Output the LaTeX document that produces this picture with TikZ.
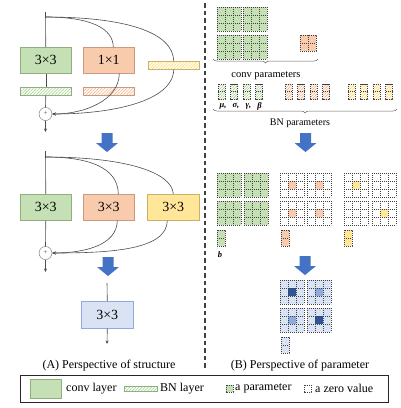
\documentclass[tikz,border=0pt]{standalone}
\usepackage{fontspec}
\setmainfont{Liberation Serif}
\usetikzlibrary{arrows.meta,patterns.meta,decorations.pathreplacing}
\definecolor{cgreen}{HTML}{C5E0B4}
\definecolor{cgreenD}{HTML}{8FAF7F}
\definecolor{corange}{HTML}{F8CBAD}
\definecolor{corangeD}{HTML}{C99A80}
\definecolor{cyellow}{HTML}{FFE699}
\definecolor{cyellowD}{HTML}{C8B26A}
\definecolor{cblueL}{HTML}{DAE3F3}
\definecolor{cblueM}{HTML}{8FAADC}
\definecolor{cblueD}{HTML}{2F5597}
\definecolor{cblueA}{HTML}{4472C4}
\definecolor{hgreen}{HTML}{A9D18E}
\definecolor{horange}{HTML}{F4B183}
\definecolor{hyellow}{HTML}{FFD966}
\tikzset{
  layer/.style={draw, anchor=north west, minimum width=51pt, minimum height=26pt, inner sep=0pt, font=\fontsize{14}{14}\selectfont, line width=0.6pt},
  bn/.style={anchor=north west, minimum width=51pt, minimum height=8pt, inner sep=0pt, line width=0.5pt, preaction={fill=white}, pattern={Lines[angle=45,distance=2.2pt,line width=0.6pt]}},
  plus/.style={circle, draw=black!60, fill=white, minimum size=13pt, inner sep=0pt, font=\scriptsize, text=black!70},
  con/.style={draw=black!70, line width=0.6pt},
  tip/.style={-{Stealth[length=3.5pt,width=3pt]}},
  dotl/.style={draw=black!75, line width=0.6pt, dash pattern=on 1.2pt off 0.8pt},
  barrow/.style={fill=cblueA},
  lbl/.style={anchor=west, inner sep=0pt, font=\large},
  captxt/.style={inner sep=0pt, font=\large},
  greek/.style={inner sep=0pt, font=\fontsize{8.5}{9}\selectfont\bfseries\itshape},
  brc/.style={draw=black!60, line width=0.5pt, decorate, decoration={brace, mirror, amplitude=4pt}},
  sepl/.style={draw=black!75, line width=1.4pt, dash pattern=on 4.5pt off 3pt}
}
\newcommand\kgrid[4]{%
  \fill[#3] (#1,#2) rectangle ++(24,24);
  \fill[#4] (#1+8,#2+8) rectangle ++(8,8);
  \foreach \k in {0,8,16,24}{\draw[dotl] (#1+\k,#2) -- ++(0,24); \draw[dotl] (#1,#2+\k) -- ++(24,0);}
}
\newcommand\kcol[3]{%
  \fill[#3] (#1,#2) rectangle ++(8,16);
  \draw[dotl] (#1,#2) rectangle ++(8,16);
  \draw[dotl] (#1,#2+8) -- ++(8,0);
}
\newcommand\bnpar[3]{%
  \fill[white] (#1,#2) rectangle ++(7,15);
  \fill[pattern={Lines[angle=45,distance=2pt,line width=0.6pt]}, pattern color=#3] (#1,#2) rectangle ++(7,15);
  \draw[dotl] (#1,#2) rectangle ++(7,15);
  \draw[dotl] (#1,#2+7.5) -- ++(7,0);
}
\newcommand\bluearrow[2]{%
  \fill[barrow] (#1-5.5,#2) -- (#1+5.5,#2) -- (#1+5.5,#2+10) -- (#1+11,#2+10) -- (#1,#2+19) -- (#1-11,#2+10) -- (#1-5.5,#2+10) -- cycle;
}
\begin{document}
\begin{tikzpicture}[x=1pt,y=-1pt]
\useasboundingbox (0,0) rectangle (400,408);
% ---------- stage 1
\coordinate (t1) at (45.5,12);
\coordinate (s1) at (45.5,17);
\node[layer, fill=cgreen, draw=cgreenD] (g1) at (20,47) {3×3};
\node[layer, fill=corange, draw=corangeD] (o1) at (83,47) {1×1};
\node[bn, draw=cgreenD, pattern color=hgreen] (bg1) at (20,87) {};
\node[bn, draw=corangeD, pattern color=horange] (bo1) at (83,87) {};
\node[bn, draw=cyellowD, pattern color=hyellow] (by1) at (148,61) {};
\node[plus] (p1) at (45.5,114) {+};
\coordinate (e1) at (45.5,132);
\draw[con] (t1) -- (g1.north);
\draw[con] (g1.south) -- (bg1.north);
\draw[con] (bg1.south) -- (p1.north);
\draw[con,tip] (p1.south) -- (e1);
\draw[con] (s1) .. controls (90,17) and (113,28) .. ([xshift=4.5pt]o1.north);
\draw[con] (s1) .. controls (125,17) and (173,32) .. (by1.north);
\draw[con,tip] ([xshift=10.5pt]o1.south) .. controls (119,100) and (85,114) .. (p1.east);
\draw[con,tip] (by1.south) .. controls (173,102) and (110,114) .. (p1.east);
\bluearrow{107}{133}
% ---------- stage 2
\coordinate (t2) at (45.5,151);
\coordinate (s2) at (45.5,157);
\node[layer, fill=cgreen, draw=cgreenD] (g2) at (20,194) {3×3};
\node[layer, fill=corange, draw=corangeD] (o2) at (83,194) {3×3};
\node[layer, fill=cyellow, draw=cyellowD, minimum width=52pt] (y2) at (147,194) {3×3};
\node[plus] (p2) at (45.5,253) {+};
\coordinate (e2) at (45.5,272);
\draw[con] (t2) -- (g2.north);
\draw[con] (g2.south) -- (p2.north);
\draw[con,tip] (p2.south) -- (e2);
\draw[con] (s2) .. controls (90,157) and (118,168) .. ([xshift=9.5pt]o2.north);
\draw[con] (s2) .. controls (125,157) and (172,172) .. (y2.north);
\draw[con,tip] ([xshift=8.5pt]o2.south) .. controls (117,245) and (85,253) .. (p2.east);
\draw[con,tip] ([xshift=-6pt]y2.south) .. controls (167,250) and (110,253) .. (p2.east);
\bluearrow{108}{257}
% ---------- stage 3
\coordinate (t3) at (107,283);
\node[layer, fill=cblueL, draw=cblueM, minimum width=52pt, minimum height=27pt] (b3) at (81,301) {3×3};
\coordinate (e3) at (107,344);
\draw[con] (t3) -- (b3.north);
\draw[con,tip] (b3.south) -- (e3);
\node[captxt] (capA) at (109,366) {(A) Perspective of structure};
% ---------- separator
\draw[sepl] (205,3) -- (205,370);
% ---------- right: conv parameters
\kgrid{217}{7}{cgreen}{cgreen}
\kgrid{243}{7}{cgreen}{cgreen}
\kgrid{217}{35}{cgreen}{cgreen}
\kgrid{243}{35}{cgreen}{cgreen}
\fill[corange] (300,35) rectangle ++(16,16);
\draw[dotl] (300,35) rectangle ++(16,16);
\draw[dotl] (308,35) -- ++(0,16);
\draw[dotl] (300,43) -- ++(16,0);
\coordinate (br1a) at (213,59);
\coordinate (br1b) at (318,59);
\draw[brc] (br1a) -- (br1b);
\node[inner sep=0pt, font=\fontsize{10.5}{12}\selectfont] (convp) at (266,76) {conv parameters};
% BN parameters
\foreach \xx in {218,230.5,243,255.5} {\bnpar{\xx}{84}{hgreen}}
\foreach \xx in {285,297.5,310,322.5} {\bnpar{\xx}{84}{horange}}
\foreach \xx in {348,360.5,373,385.5} {\bnpar{\xx}{84}{hyellow}}
\node[greek] (mu) at (223,106) {μ,};
\node[greek] (sig) at (236,106) {σ,};
\node[greek] (gam) at (248.5,106) {γ,};
\node[greek] (bet) at (259.5,106) {β};
\coordinate (br2a) at (213,109);
\coordinate (br2b) at (397,109);
\draw[brc] (br2a) -- (br2b);
\node[inner sep=0pt, font=\fontsize{10}{12}\selectfont] (bnp) at (300,123) {BN parameters};
\bluearrow{305.5}{133}
% ---------- right: transformed
\kgrid{217}{173}{cgreen}{cgreen}
\kgrid{244}{173}{cgreen}{cgreen}
\kgrid{217}{201}{cgreen}{cgreen}
\kgrid{244}{201}{cgreen}{cgreen}
\kgrid{280}{173}{white}{corange}
\kgrid{307}{173}{white}{corange}
\kgrid{280}{201}{white}{corange}
\kgrid{307}{201}{white}{corange}
\kgrid{344}{173}{white}{cyellow}
\kgrid{372}{173}{white}{white}
\kgrid{344}{201}{white}{white}
\kgrid{372}{201}{white}{cyellow}
\kcol{217}{230}{cgreen}
\kcol{281}{230}{corange}
\kcol{344}{230}{cyellow}
\node[greek] (bb) at (220,255) {b};
\bluearrow{305}{256}
% ---------- right: final
\kgrid{280}{280}{cblueL}{cblueD}
\kgrid{307}{280}{cblueL}{cblueM}
\kgrid{280}{308}{cblueL}{cblueM}
\kgrid{307}{308}{cblueL}{cblueD}
\kcol{281}{337}{cblueL}
\node[captxt] (capB) at (300,366) {(B) Perspective of parameter};
% ---------- legend
\node[draw=black!85, line width=0.9pt, anchor=north west, minimum width=368pt, minimum height=27pt, inner sep=0pt] (leg) at (20,375) {};
\node[draw=cgreenD, fill=cgreen, anchor=north west, minimum width=31pt, minimum height=19pt, inner sep=0pt] (lgc) at (30,379) {};
\node[lbl] (lgct) at (66,388.5) {conv layer};
\node[bn, draw=cgreenD, pattern color=hgreen, minimum width=33pt, minimum height=5pt] (lgb) at (124,386) {};
\node[lbl] (lgbt) at (160,388.5) {BN layer};
\fill[cgreen] (226,385) rectangle ++(7,7);
\draw[dotl] (226,385) rectangle ++(7,7);
\node[lbl] (lgpt) at (235,388.5) {a parameter};
\draw[dotl] (304,385) rectangle ++(7,7);
\node[lbl] (lgzt) at (315,388.5) {a zero value};
\end{tikzpicture}
\end{document}
